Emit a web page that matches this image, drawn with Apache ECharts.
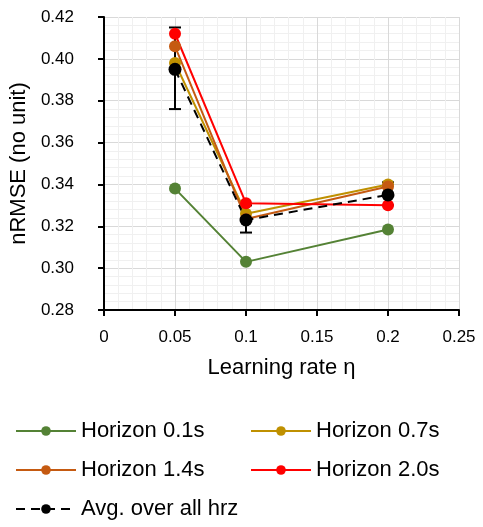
<!DOCTYPE html>
<html>
<head>
<meta charset="utf-8">
<script src="https://cdn.jsdelivr.net/npm/echarts@6/dist/echarts.min.js"></script>
<style>
	html, body { margin: 0; padding: 0; background: #fff; }
	#chart { width: 483px; height: 527px; }
</style>
</head>
<body>
<div id="chart"></div>
<script type="text/javascript">
	// learning rates on the x axis
	var rates = [0.05, 0.1, 0.2];
	var names = ['Horizon 0.1s', 'Horizon 0.7s', 'Horizon 1.4s', 'Horizon 2.0s', 'Avg. over all hrz'];
	var h01 = [0.338, 0.303, 0.3185];
	var h07 = [0.398, 0.326, 0.340];
	var h14 = [0.406, 0.3235, 0.339];
	var h20 = [0.412, 0.331, 0.330];
	var avg = [0.395, 0.323, 0.335];
	// error bar of the average: low / high
	var errLow = [0.376, 0.317, 0.330];
	var errHigh = [0.415, 0.330, 0.341];

	var font = "'Liberation Sans', Arial, sans-serif";

	function pts(vals) {
		return rates.map(function (r, i) { return [r, vals[i]]; });
	}

	function lineSerie(name, vals, color, size, dashed) {
		return {
			name: name,
			type: 'line',
			data: pts(vals),
			symbol: 'circle',
			symbolSize: size,
			itemStyle: { color: color },
			lineStyle: { color: color, width: 2, type: dashed ? [9, 6] : 'solid' },
			z: 3
		};
	}

	// one legend box per entry, two columns
	function legendItem(name, left, top) {
		return {
			left: left,
			top: top,
			padding: 0,
			itemWidth: 60,
			itemHeight: 12,
			itemGap: 6,
			data: [name],
			textStyle: { fontSize: 22, color: '#000', fontFamily: font, lineHeight: 22 }
		};
	}

	var errData = rates.map(function (r, i) { return [r, errLow[i], errHigh[i]]; });

	var option = {
		animation: false,
		textStyle: { fontFamily: font },
		grid: { left: 104, right: 24, top: 17, bottom: 217 },
		xAxis: {
			type: 'value',
			min: 0,
			max: 0.25,
			interval: 0.05,
			name: 'Learning rate η',
			nameLocation: 'middle',
			nameGap: 47,
			nameTextStyle: { fontSize: 22, color: '#000', fontFamily: font },
			axisLine: { lineStyle: { color: '#000', width: 2 } },
			axisTick: { show: true, length: 6, lineStyle: { color: '#000', width: 2 } },
			axisLabel: { fontSize: 17, color: '#000', margin: 19, fontFamily: font },
			splitLine: { show: true, lineStyle: { color: '#d9d9d9', width: 1 } },
			minorTick: { show: false, splitNumber: 5 },
			minorSplitLine: { show: true, lineStyle: { color: '#f0f0f0', width: 1 } }
		},
		yAxis: {
			type: 'value',
			min: 0.28,
			max: 0.42,
			interval: 0.02,
			name: 'nRMSE (no unit)',
			nameLocation: 'middle',
			nameGap: 66,
			nameTextStyle: { fontSize: 22, color: '#000', fontFamily: font },
			axisLine: { show: true, lineStyle: { color: '#000', width: 2 } },
			axisTick: { show: true, length: 6, lineStyle: { color: '#000', width: 2 } },
			axisLabel: {
				fontSize: 17, color: '#000', margin: 30, fontFamily: font,
				formatter: function (v) { return v.toFixed(2); }
			},
			splitLine: { show: true, lineStyle: { color: '#d9d9d9', width: 1 } },
			minorTick: { show: false, splitNumber: 5 },
			minorSplitLine: { show: true, lineStyle: { color: '#f0f0f0', width: 1 } }
		},
		legend: [
			legendItem(names[0], 15, 420),
			legendItem(names[1], 250, 420),
			legendItem(names[2], 15, 459),
			legendItem(names[3], 250, 459),
			legendItem(names[4], 15, 498)
		],
		series: [
			{
				type: 'custom',
				name: 'err',
				data: errData,
				z: 2,
				renderItem: function (params, api) {
					var x = api.value(0);
					var lo = api.coord([x, api.value(1)]);
					var hi = api.coord([x, api.value(2)]);
					var w = 6;
					var st = { stroke: '#000', lineWidth: 2 };
					return {
						type: 'group',
						children: [
							{ type: 'line', shape: { x1: lo[0], y1: lo[1], x2: hi[0], y2: hi[1] }, style: st },
							{ type: 'line', shape: { x1: lo[0] - w, y1: lo[1], x2: lo[0] + w, y2: lo[1] }, style: st },
							{ type: 'line', shape: { x1: hi[0] - w, y1: hi[1], x2: hi[0] + w, y2: hi[1] }, style: st }
						]
					};
				}
			},
			lineSerie(names[0], h01, '#548235', 12, false),
			lineSerie(names[1], h07, '#bf9000', 12, false),
			lineSerie(names[2], h14, '#c55a11', 12, false),
			lineSerie(names[3], h20, '#ff0000', 12, false),
			lineSerie(names[4], avg, '#000000', 13, true)
		]
	};

	var myChart = echarts.init(document.getElementById('chart'));
	myChart.setOption(option);
</script>
</body>
</html>
